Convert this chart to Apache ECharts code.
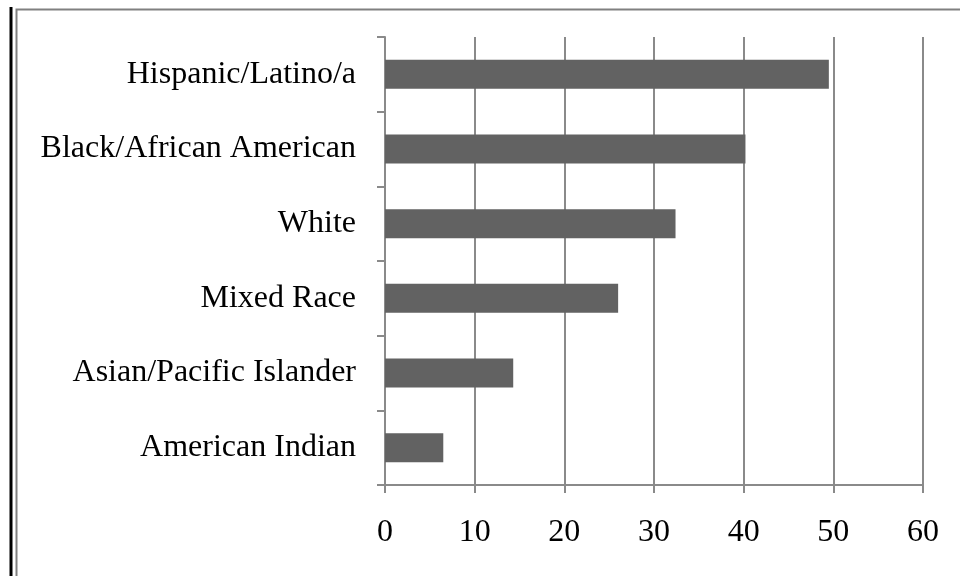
<!DOCTYPE html>
<html>
<head>
<meta charset="utf-8">
<script src="https://cdn.jsdelivr.net/npm/echarts@6/dist/echarts.min.js"></script>
<style>
  html, body { margin: 0; padding: 0; background: #fff; }
  #main { width: 960px; height: 576px; }
</style>
</head>
<body>
<div id="main"></div>
<script>
// categories, bottom to top as ECharts draws them
var categories = ['American Indian', 'Asian/Pacific Islander', 'Mixed Race', 'White', 'Black/African American', 'Hispanic/Latino/a'];
var values = [6.5, 14.3, 26.0, 32.4, 40.2, 49.5];

var font = "'Liberation Serif', 'Times New Roman', serif";
var lineGray = '#8a8a8a';

var myChart = echarts.init(document.getElementById('main'));

var option = {
    backgroundColor: '#fff',
    animation: false,
    grid: {
        left: 385,
        right: 37,
        top: 37,
        bottom: 91
    },
    // chart frame
    graphic: [{
        type: 'rect',
        left: 14,
        top: 7,
        shape: { width: 1000, height: 600 },
        style: { fill: 'none', stroke: '#808080', lineWidth: 2 },
        silent: true
    }, {
        type: 'line',
        shape: { x1: 11, y1: 7, x2: 11, y2: 576 },
        style: { stroke: '#000', lineWidth: 3 },
        silent: true
    }],
    xAxis: {
        type: 'value',
        min: 0,
        max: 60,
        interval: 10,
        axisLine: { show: true, lineStyle: { color: lineGray, width: 2 } },
        axisTick: { show: true, length: 8, lineStyle: { color: lineGray, width: 2 } },
        axisLabel: { margin: 32, color: '#000', fontSize: 32, fontFamily: font },
        splitLine: { show: true, lineStyle: { color: lineGray, width: 2 } }
    },
    yAxis: {
        type: 'category',
        data: categories,
        axisLine: { show: true, lineStyle: { color: lineGray, width: 2 } },
        axisTick: { show: true, length: 8, lineStyle: { color: lineGray, width: 2 } },
        axisLabel: { margin: 29, color: '#000', fontSize: 32, fontFamily: font },
        splitLine: { show: false }
    },
    series: [{
        type: 'bar',
        data: values,
        barWidth: 29,
        itemStyle: { color: '#626262' }
    }]
};

myChart.setOption(option);
</script>
</body>
</html>
